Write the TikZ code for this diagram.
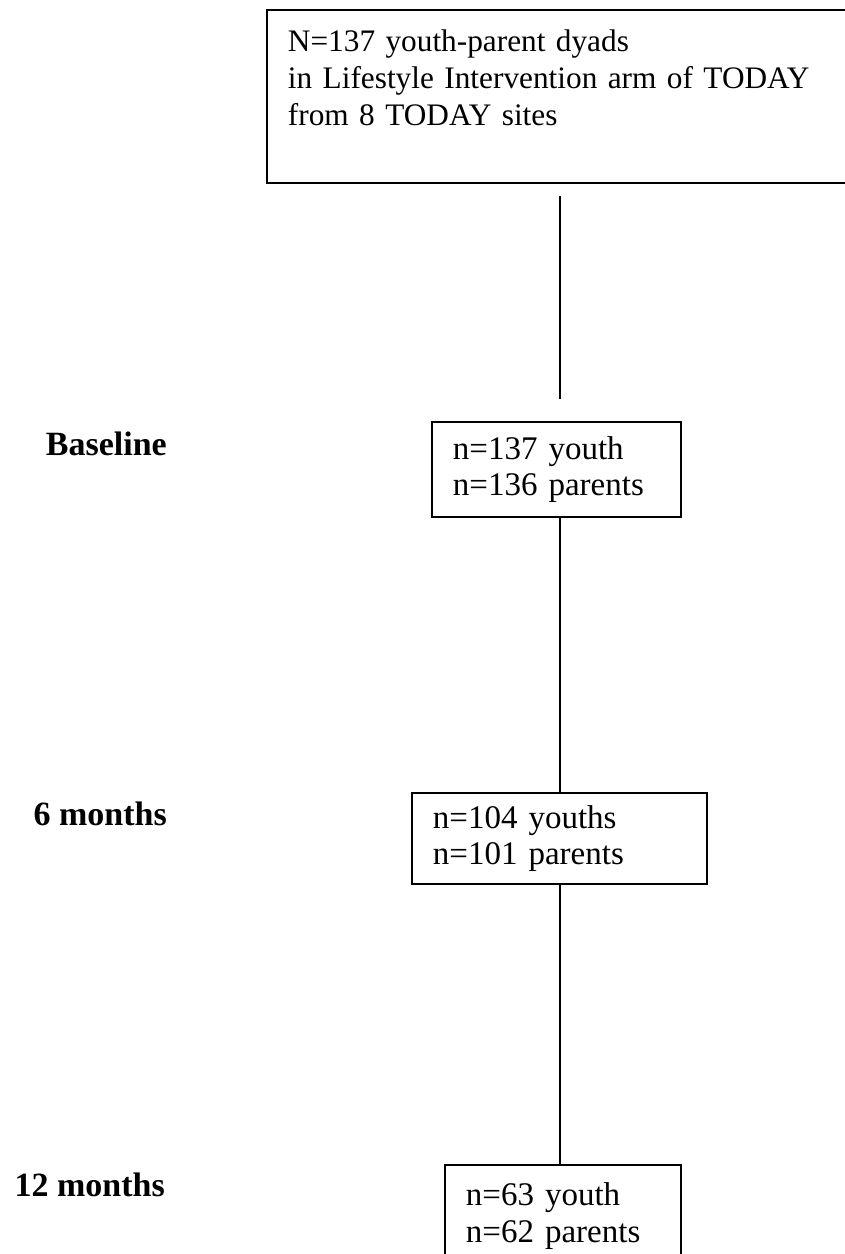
\documentclass[tikz,border=0pt]{standalone}
\usepackage{fontspec}
\setmainfont{Liberation Serif}
\begin{document}
\begin{tikzpicture}[x=1pt, y=-1pt,
    box/.style={draw, line width=1.9pt, anchor=north west, inner xsep=21pt, inner ysep=0pt,
        align=left, font=\fontsize{33}{36.5}\selectfont},
    stage/.style={anchor=base east, inner sep=0pt, font=\fontsize{34}{40}\selectfont\bfseries},
    link/.style={line width=1.9pt}]
    \useasboundingbox (0,0) rectangle (845,1254);
    \clip (0,0) rectangle (845,1254);

    % Enrolled dyads
    \node[box, text width=558pt, minimum height=173pt, font=\fontsize{31.3}{37}\selectfont]
        (dyads) at (266,9) {N=137 youth-parent dyads\\in Lifestyle Intervention arm of TODAY\\from 8 TODAY sites\\\mbox{}};

    % Assessment boxes
    \node[box, text width=207pt, minimum height=95pt] (base) at (431,421) {n=137 youth\\n=136 parents};
    \node[box, text width=253pt, minimum height=91pt] (six) at (411,792) {n=104 youths\\n=101 parents};
    \node[box, text width=194pt, minimum height=102pt] (twelve) at (444,1164) {n=63 youth\\n=62 parents};

    % Time points
    \node[stage] (lblbase) at (167,455) {Baseline};
    \node[stage] (lblsix) at (167,825) {6 months};
    \node[stage] (lbltwelve) at (165,1196) {12 months};

    % Vertical connectors
    \coordinate (spine) at (560,0);
    \draw[link, shorten <=12pt, shorten >=22pt] (dyads.south -| spine) -- (base.north -| spine);
    \draw[link] (base.south -| spine) -- (six.north -| spine);
    \draw[link] (six.south -| spine) -- (twelve.north -| spine);
\end{tikzpicture}
\end{document}
